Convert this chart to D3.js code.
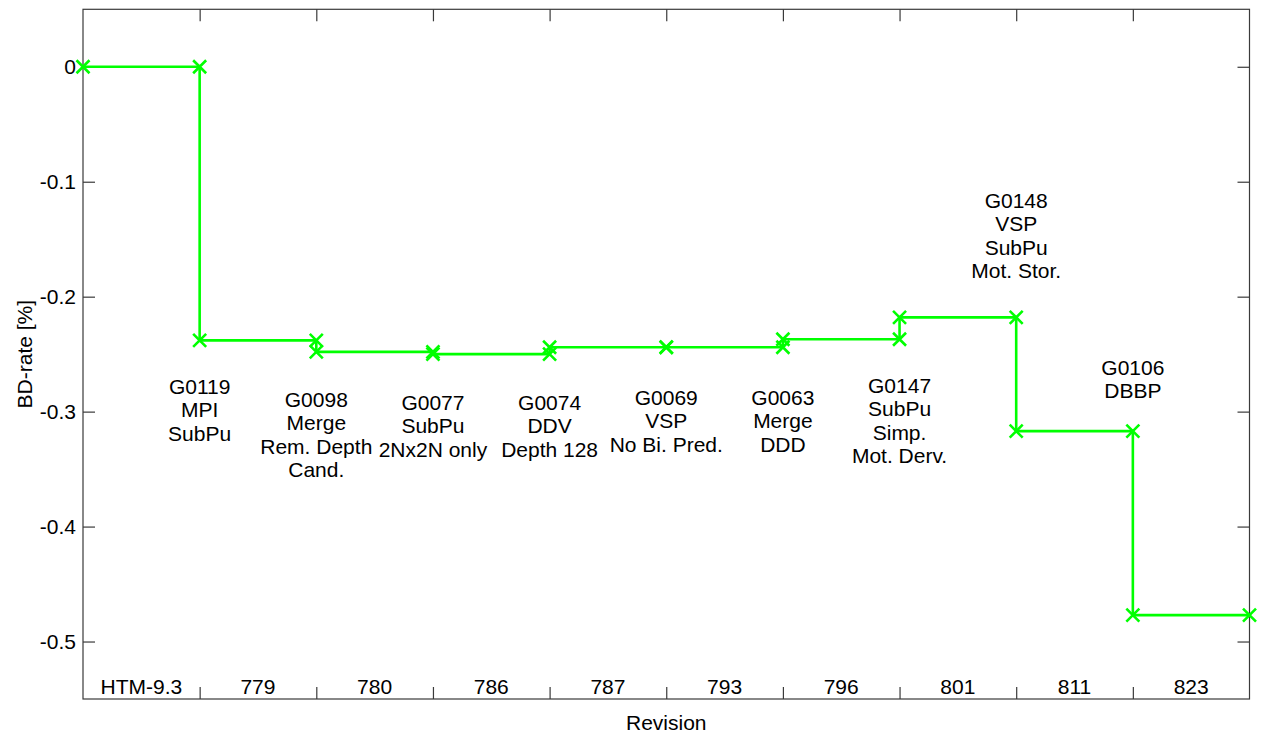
<!DOCTYPE html>
<html>
<head>
<meta charset="utf-8">
<script src="https://cdn.jsdelivr.net/npm/d3@7"></script>
<style>
  html, body { margin: 0; padding: 0; background: #fff; }
  svg { display: block; }
  text { font-family: "Liberation Sans", Arial, Helvetica, sans-serif; fill: #000; }
</style>
</head>
<body>
<svg id="chart" width="1264" height="736"></svg>
<script>
// ---- Data ----
const revisions = ["HTM-9.3", "779", "780", "786", "787", "793", "796", "801", "811", "823"];
// BD-rate after each revision (index 0 = anchor)
const bdRate = [0, -0.238, -0.248, -0.250, -0.244, -0.244, -0.237, -0.218, -0.317, -0.477];
const yTicks = [0, -0.1, -0.2, -0.3, -0.4, -0.5];
const proposalLabels = [
  ["G0119", "MPI", "SubPu"],
  ["G0098", "Merge", "Rem. Depth", "Cand."],
  ["G0077", "SubPu", "2Nx2N only"],
  ["G0074", "DDV", "Depth 128"],
  ["G0069", "VSP", "No Bi. Pred."],
  ["G0063", "Merge", "DDD"],
  ["G0147", "SubPu", "Simp.", "Mot. Derv."],
  ["G0148", "VSP", "SubPu", "Mot. Stor."],
  ["G0106", "DBBP"]
];
// first-line anchor of each proposal label, in BD-rate units
const proposalLabelY = [-0.2843, -0.2957, -0.2983, -0.2983, -0.2940, -0.2940, -0.2835, -0.1225, -0.2678];

(function () {
// ---- Layout ----
const svg = d3.select("#chart");
const pLeft = 83, pRight = 1249.5, pTop = 9.3, pBottom = 699;
const x = d3.scaleLinear().domain([0, revisions.length]).range([pLeft, pRight]);
const y = d3.scaleLinear().domain([-0.55, 0.05]).range([pBottom, pTop]);
const axisColor = "#3a3a3a";
const tickLen = 12;
const fontSize = 21;

// step points built from the data
const pts = [[0, bdRate[0]]];
for (let i = 1; i < bdRate.length; i++) {
  pts.push([i, bdRate[i - 1]]);
  pts.push([i, bdRate[i]]);
}
pts.push([revisions.length, bdRate[bdRate.length - 1]]);

// ---- Axes box ----
svg.append("rect")
  .attr("x", pLeft).attr("y", pTop)
  .attr("width", pRight - pLeft).attr("height", pBottom - pTop)
  .attr("fill", "#fff").attr("stroke", axisColor).attr("stroke-width", 1.2);

// x ticks (inward, top and bottom) at revision boundaries
const xTickVals = d3.range(1, revisions.length);
const bottomAxis = d3.axisBottom(x).tickValues(xTickVals).tickSize(-tickLen).tickFormat("");
const topAxis = d3.axisTop(x).tickValues(xTickVals).tickSize(-tickLen).tickFormat("");
const gB = svg.append("g").attr("transform", `translate(0,${pBottom})`).call(bottomAxis);
const gT = svg.append("g").attr("transform", `translate(0,${pTop})`).call(topAxis);

// y ticks (inward, left and right)
const leftAxis = d3.axisLeft(y).tickValues(yTicks).tickSize(-tickLen).tickPadding(7)
  .tickFormat(d => d === 0 ? "0" : d3.format(".1f")(d).replace("\u2212", "-"));
const rightAxis = d3.axisRight(y).tickValues(yTicks).tickSize(-tickLen).tickFormat("");
const gL = svg.append("g").attr("transform", `translate(${pLeft},0)`).call(leftAxis);
const gR = svg.append("g").attr("transform", `translate(${pRight},0)`).call(rightAxis);

[gB, gT, gL, gR].forEach(g => {
  g.select(".domain").remove();
  g.selectAll(".tick line").attr("stroke", axisColor).attr("stroke-width", 1.2);
  g.selectAll("text").style("font-family", '"Liberation Sans", Arial, sans-serif')
    .style("font-size", fontSize + "px").attr("fill", "#000");
});

// revision labels centred between boundaries, inside the box
svg.append("g").selectAll("text")
  .data(revisions).join("text")
  .attr("x", (d, i) => x(i + 0.5))
  .attr("y", pBottom - 5)
  .attr("text-anchor", "middle")
  .style("font-size", fontSize + "px")
  .text(d => d);

// ---- Step line ----
const line = d3.line().x(d => x(d[0])).y(d => y(d[1]));
svg.append("path")
  .datum(pts)
  .attr("d", line)
  .attr("fill", "none")
  .attr("stroke", "#00ff00")
  .attr("stroke-width", 2.6);

// x markers
const m = 6.5;
svg.append("g").selectAll("path")
  .data(pts).join("path")
  .attr("d", d => {
    const cx = x(d[0]), cy = y(d[1]);
    return `M${cx - m},${cy - m}L${cx + m},${cy + m}M${cx - m},${cy + m}L${cx + m},${cy - m}`;
  })
  .attr("stroke", "#00ff00")
  .attr("stroke-width", 2.6)
  .attr("fill", "none");

// ---- Proposal annotations ----
const lineH = 23.5;
const ann = svg.append("g");
proposalLabels.forEach((lines, i) => {
  const t = ann.append("text")
    .attr("text-anchor", "middle")
    .style("font-size", fontSize + "px")
    .attr("x", x(i + 1))
    .attr("y", y(proposalLabelY[i]));
  lines.forEach((s, k) => {
    t.append("tspan").attr("x", x(i + 1)).attr("dy", k === 0 ? 0 : lineH).text(s);
  });
});

// ---- Axis titles ----
svg.append("text")
  .attr("x", (pLeft + pRight) / 2)
  .attr("y", 730)
  .attr("text-anchor", "middle")
  .style("font-size", fontSize + "px")
  .text("Revision");

svg.append("text")
  .attr("transform", `translate(32,${(pTop + pBottom) / 2}) rotate(-90)`)
  .attr("text-anchor", "middle")
  .style("font-size", fontSize + "px")
  .text("BD-rate [%]");
})();
</script>
</body>
</html>
